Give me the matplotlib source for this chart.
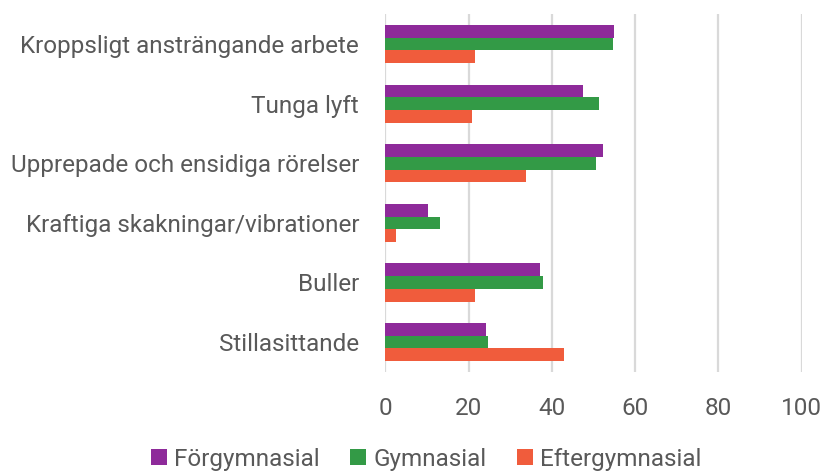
import matplotlib
matplotlib.use("Agg")
import matplotlib.pyplot as plt
import numpy as np

plt.rcParams["font.family"] = ["Roboto", "DejaVu Sans"]

categories = ["Kroppsligt ansträngande arbete", "Tunga lyft",
              "Upprepade och ensidiga rörelser", "Kraftiga skakningar/vibrationer",
              "Buller", "Stillasittande"]
series_names = ["Förgymnasial", "Gymnasial", "Eftergymnasial"]
forgym = [54.8, 47.4, 52.3, 10.2, 37.1, 24.1]
gym = [54.6, 51.4, 50.5, 13.2, 37.8, 24.6]
eftergym = [21.5, 20.7, 33.8, 2.6, 21.6, 42.8]
xticks = [0, 20, 40, 60, 80, 100]

colors = ["#8E2A9A", "#339A46", "#F05C3C"]
txt = "#595959"

fig = plt.figure(figsize=(8.23, 4.72), dpi=100)
ax = fig.add_axes([0.4684, 0.212, 0.5056, 0.758])

y = np.arange(len(categories))
h = 0.213
for i, (vals, c, name) in enumerate(zip([forgym, gym, eftergym], colors, series_names)):
    ax.barh(y - h + i * h, vals, height=h, color=c, label=name, zorder=3)

ax.set_ylim(len(categories) - 0.5, -0.5)
ax.set_xlim(0, 100)
ax.set_xticks(xticks)
ax.set_yticks(y)
ax.set_yticklabels(categories)
ax.tick_params(axis="both", length=0, labelsize=17.5, colors=txt)
ax.tick_params(axis="y", pad=19)
ax.tick_params(axis="x", pad=18)
ax.grid(axis="x", color="#d9d9d9", lw=1.6, zorder=0)
for s in ax.spines.values():
    s.set_visible(False)

leg = fig.legend(loc="center", bbox_to_anchor=(0.518, 0.027), ncol=3, frameon=False,
                 fontsize=17.5, handlelength=0.65, handleheight=0.65, handletextpad=0.3,
                 columnspacing=1.25, borderaxespad=0)
for t in leg.get_texts():
    t.set_color(txt)

fig.savefig("out.png", dpi=100)
